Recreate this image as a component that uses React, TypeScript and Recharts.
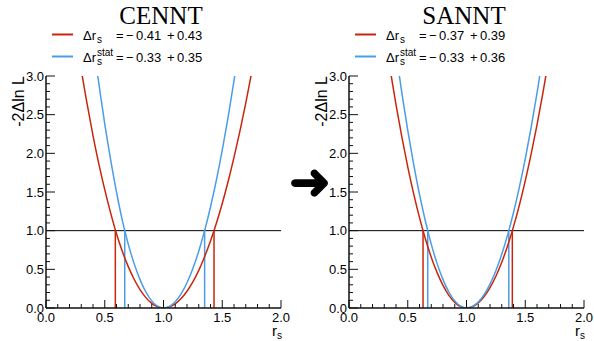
import { LineChart, Line, XAxis, YAxis, ReferenceLine } from "recharts";

// r_s sampling points shared by every likelihood scan
const rGrid = [
  0.25, 0.3, 0.35, 0.4, 0.45, 0.5, 0.55, 0.6, 0.65, 0.7, 0.75, 0.8, 0.85, 0.9, 0.95, 1.0,
  1.05, 1.1, 1.15, 1.2, 1.25, 1.3, 1.35, 1.4, 1.45, 1.5, 1.55, 1.6, 1.65, 1.7, 1.75,
];

// -2 Delta ln L
const cenntTotal = [
  3.45, 3.07, 2.64, 2.23, 1.86, 1.53, 1.23, 0.96, 0.73, 0.535, 0.372, 0.238, 0.134, 0.059, 0.015, 0,
  0.014, 0.054, 0.122, 0.216, 0.338, 0.487, 0.663, 0.865, 1.095, 1.352, 1.636, 1.947, 2.285, 2.65, 3.042,
];
const cenntStat = [
  5.3, 4.6, 3.98, 3.42, 2.9, 2.38, 1.92, 1.5, 1.13, 0.826, 0.574, 0.367, 0.207, 0.092, 0.023, 0,
  0.02, 0.082, 0.184, 0.327, 0.51, 0.735, 1.0, 1.306, 1.653, 2.041, 2.469, 2.939, 3.449, 4.0, 4.592,
];
const sanntTotal = [
  4.109, 3.579, 3.086, 2.63, 2.21, 1.826, 1.479, 1.169, 0.895, 0.657, 0.457, 0.292, 0.164, 0.073, 0.018, 0,
  0.016, 0.066, 0.148, 0.263, 0.411, 0.592, 0.805, 1.052, 1.331, 1.644, 1.989, 2.367, 2.778, 3.222, 3.698,
];
const sanntStat = [
  5.165, 4.5, 3.88, 3.306, 2.778, 2.296, 1.86, 1.469, 1.125, 0.826, 0.574, 0.367, 0.207, 0.092, 0.023, 0,
  0.019, 0.077, 0.174, 0.309, 0.482, 0.694, 0.945, 1.235, 1.563, 1.929, 2.334, 2.778, 3.26, 3.781, 4.34,
];

// 1 sigma intervals (where the scan crosses 1)
const cenntTotalBand = [0.59, 1.43];
const cenntStatBand = [0.67, 1.35];
const sanntTotalBand = [0.63, 1.39];
const sanntStatBand = [0.67, 1.36];

const cenntTotalErr = ["0.41", "0.43"];
const cenntStatErr = ["0.33", "0.35"];
const sanntTotalErr = ["0.37", "0.39"];
const sanntStatErr = ["0.33", "0.36"];

const xTicks = [
  0, 0.1, 0.2, 0.3, 0.4, 0.5, 0.6, 0.7, 0.8, 0.9, 1.0, 1.1, 1.2, 1.3, 1.4, 1.5, 1.6, 1.7, 1.8, 1.9, 2.0,
];
const yTicks = [
  0, 0.1, 0.2, 0.3, 0.4, 0.5, 0.6, 0.7, 0.8, 0.9, 1.0, 1.1, 1.2, 1.3, 1.4, 1.5, 1.6, 1.7, 1.8, 1.9, 2.0,
  2.1, 2.2, 2.3, 2.4, 2.5, 2.6, 2.7, 2.8, 2.9, 3.0,
];

const RED = "#c8260c";
const BLUE = "#4a9de6";
const AXIS = "#111";
const SANS = "'Liberation Sans', Arial, Helvetica, sans-serif";

const isMajor = (v: number) => Math.abs(v * 2 - Math.round(v * 2)) < 1e-6;
const toPoints = (ys: number[]) => rGrid.map((r, i) => ({ r, y: ys[i] }));

const BottomTick = ({ x, y, payload }: any) => {
  const major = isMajor(payload.value);
  return (
    <g>
      <line x1={x} x2={x} y1={y} y2={y - (major ? 8 : 4)} stroke={AXIS} strokeWidth={1} />
      {major && (
        <text x={x} y={y + 14} textAnchor="middle" fontSize={13} fontFamily={SANS} fill="#000">
          {payload.value.toFixed(1)}
        </text>
      )}
    </g>
  );
};

const TopTick = ({ x, y, payload }: any) => (
  <line x1={x} x2={x} y1={y} y2={y + (isMajor(payload.value) ? 8 : 4)} stroke={AXIS} strokeWidth={1} />
);

const LeftTick = ({ x, y, payload }: any) => {
  const major = isMajor(payload.value);
  return (
    <g>
      <line x1={x} x2={x + (major ? 9 : 4)} y1={y} y2={y} stroke={AXIS} strokeWidth={1} />
      {major && (
        <text x={x - 2} y={y} textAnchor="end" dominantBaseline="central" fontSize={13} fontFamily={SANS} fill="#000">
          {payload.value.toFixed(1)}
        </text>
      )}
    </g>
  );
};

const RightTick = ({ x, y, payload }: any) => (
  <line x1={x} x2={x - (isMajor(payload.value) ? 8 : 4)} y1={y} y2={y} stroke={AXIS} strokeWidth={1} />
);

interface PanelProps {
  left: number;
  total: number[];
  stat: number[];
  totalBand: number[];
  statBand: number[];
}

function Panel({ left, total, stat, totalBand, statBand }: PanelProps) {
  return (
    <div style={{ position: "absolute", left, top: 0 }}>
      <LineChart width={300} height={341} margin={{ top: 76, right: 19, bottom: 0, left: 0 }}>
        <XAxis
          dataKey="r"
          type="number"
          domain={[0, 2]}
          ticks={xTicks}
          interval={0}
          allowDataOverflow
          height={33}
          tickSize={0}
          tickMargin={0}
          tickLine={false}
          tick={BottomTick}
          axisLine={{ stroke: AXIS, strokeWidth: 1.5 }}
        />
        <XAxis
          xAxisId="top"
          orientation="top"
          type="number"
          domain={[0, 2]}
          ticks={xTicks}
          interval={0}
          height={0}
          tickSize={0}
          tickMargin={0}
          tickLine={false}
          tick={TopTick}
          axisLine={{ stroke: AXIS, strokeWidth: 1.5 }}
        />
        <YAxis
          type="number"
          domain={[0, 3]}
          ticks={yTicks}
          interval={0}
          allowDataOverflow
          width={46}
          tickSize={0}
          tickMargin={0}
          tickLine={false}
          tick={LeftTick}
          axisLine={{ stroke: AXIS, strokeWidth: 1.5 }}
        />
        <YAxis
          yAxisId="right"
          orientation="right"
          type="number"
          domain={[0, 3]}
          ticks={yTicks}
          interval={0}
          width={0}
          tickSize={0}
          tickMargin={0}
          tickLine={false}
          tick={RightTick}
          axisLine={{ stroke: AXIS, strokeWidth: 1.5 }}
        />
        <ReferenceLine y={1} stroke="#000" strokeWidth={1} />
        {totalBand.map((b) => (
          <ReferenceLine key={"t" + b} segment={[{ x: b, y: 0 }, { x: b, y: 1 }]} stroke={RED} strokeWidth={1.5} />
        ))}
        {statBand.map((b) => (
          <ReferenceLine key={"s" + b} segment={[{ x: b, y: 0 }, { x: b, y: 1 }]} stroke={BLUE} strokeWidth={1.5} />
        ))}
        <Line
          data={toPoints(total)}
          dataKey="y"
          type="monotone"
          stroke={RED}
          strokeWidth={1.5}
          dot={false}
          isAnimationActive={false}
        />
        <Line
          data={toPoints(stat)}
          dataKey="y"
          type="monotone"
          stroke={BLUE}
          strokeWidth={1.5}
          dot={false}
          isAnimationActive={false}
        />
      </LineChart>
    </div>
  );
}

function Annotations({ left, title, totalErr, statErr }: { left: number; title: string; totalErr: string[]; statErr: string[] }) {
  const rows = [
    { err: totalErr, color: RED, base: 40, stat: false },
    { err: statErr, color: BLUE, base: 62, stat: true },
  ];
  const txt = { fontSize: 13, fontFamily: SANS, fill: "#000" };
  return (
    <g transform={`translate(${left},0)`}>
      <text x={161} y={24} textAnchor="middle" fontSize={25} fontFamily="'Liberation Serif', 'Times New Roman', serif" fill="#000">
        {title}
      </text>
      {rows.map((row) => (
        <g key={row.base}>
          <line x1={52} x2={73} y1={row.base - 5.5} y2={row.base - 5.5} stroke={row.color} strokeWidth={2} />
          <text x={83} y={row.base} {...txt}>Δr</text>
          <text x={97} y={row.base + 3} {...txt} fontSize={10}>s</text>
          {row.stat && (
            <text x={97} y={row.base - 6} {...txt} fontSize={10}>stat</text>
          )}
          <text x={116} y={row.base} {...txt}>=</text>
          <text x={126} y={row.base} {...txt}>−</text>
          <text x={136} y={row.base} {...txt}>{row.err[0]}</text>
          <text x={167} y={row.base} {...txt}>+</text>
          <text x={177} y={row.base} {...txt}>{row.err[1]}</text>
        </g>
      ))}
      <text
        x={23.5}
        y={76}
        transform="rotate(-90 23.5 76)"
        textAnchor="end"
        fontSize={16}
        fontFamily={SANS}
        fill="#000"
      >
        -2Δln L
      </text>
      <text x={282} y={336} textAnchor="end" fontSize={15} fontFamily={SANS} fill="#000">
        r<tspan fontSize={10} dy={3}>s</tspan>
      </text>
    </g>
  );
}

export default function App() {
  return (
    <div style={{ position: "absolute", left: 0, top: 0, width: 594, height: 341, background: "#fff" }}>
      <Panel left={0} total={cenntTotal} stat={cenntStat} totalBand={cenntTotalBand} statBand={cenntStatBand} />
      <Panel left={303} total={sanntTotal} stat={sanntStat} totalBand={sanntTotalBand} statBand={sanntStatBand} />
      <svg width={594} height={341} style={{ position: "absolute", left: 0, top: 0, pointerEvents: "none" }}>
        <Annotations left={0} title="CENNT" totalErr={cenntTotalErr} statErr={cenntStatErr} />
        <Annotations left={303} title="SANNT" totalErr={sanntTotalErr} statErr={sanntStatErr} />
        <text
          x={310}
          y={182}
          textAnchor="middle"
          dominantBaseline="central"
          fontSize={50}
          fontFamily="'DejaVu Sans', sans-serif"
          fill="#000"
          stroke="#000"
          strokeWidth={1.5}
        >
          ➜
        </text>
      </svg>
    </div>
  );
}
